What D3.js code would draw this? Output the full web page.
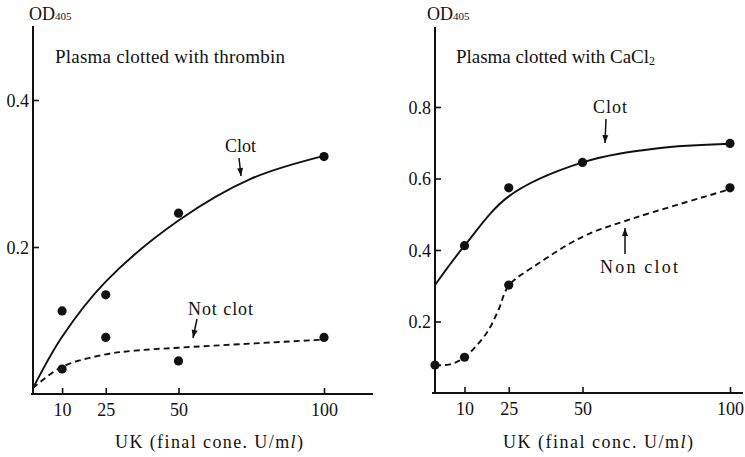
<!DOCTYPE html>
<html><head><meta charset="utf-8">
<script src="https://cdn.jsdelivr.net/npm/d3@7"></script>
<style>
html,body{margin:0;padding:0;background:#fff;}
svg{display:block;}
</style></head><body>
<svg id="chart" width="745" height="457"></svg>
<script>
// ---- data ----
const xTicks = [10, 25, 50, 100];
const leftYTicks = [0.2, 0.4];
const rightYTicks = [0.2, 0.4, 0.6, 0.8];

// Panel A: plasma clotted with thrombin
const thrombinClotPts = [[10, 0.113], [25, 0.135], [50, 0.246], [100, 0.323]];
const thrombinNotClotPts = [[10, 0.034], [25, 0.077], [50, 0.045], [100, 0.077]];
const thrombinClotCurve = [[0, 0.008], [10, 0.078], [25, 0.153], [50, 0.236], [75, 0.293], [100, 0.324]];
const thrombinNotClotCurve = [[0, 0.008], [10, 0.037], [25, 0.054], [35, 0.059], [50, 0.063], [100, 0.074]];

// Panel B: plasma clotted with CaCl2
const cacl2ClotPts = [[10, 0.412], [25, 0.574], [50, 0.645], [100, 0.698]];
const cacl2NonClotPts = [[0, 0.078], [10, 0.1], [25, 0.302], [100, 0.574]];
const cacl2ClotCurve = [[0, 0.302], [10, 0.412], [25, 0.55], [50, 0.645], [75, 0.684], [100, 0.697]];
const cacl2NonClotCurve = [[0, 0.078], [5, 0.08], [10, 0.1], [17.5, 0.168], [21.5, 0.232], [25, 0.3], [35, 0.362], [50, 0.437], [64, 0.48], [100, 0.57]];

const FONT = "'Liberation Serif', 'Times New Roman', serif";
const svg = d3.select("#chart");

function txt(sel, size) {
  return sel.attr("font-family", FONT).style("font-family", FONT)
    .style("font-size", size + "px").attr("fill", "#111");
}

function panel(cfg) {
  const g = svg.append("g");
  const x = d3.scaleLinear().domain([0, 100]).range(cfg.xRange);
  const y = d3.scaleLinear().domain(cfg.yDomain).range(cfg.yRange);

  // y axis
  const yAx = g.append("g").attr("transform", `translate(${x(0)},0)`)
    .call(d3.axisRight(y).tickValues(cfg.yTicks).tickSize(6).tickFormat(d3.format(".1f")));
  yAx.attr("font-family", FONT);
  yAx.select(".domain").remove();
  yAx.selectAll("line").attr("stroke", "#111").attr("stroke-width", 1.6);
  txt(yAx.selectAll("text"), 18).attr("x", -4).attr("text-anchor", "end").attr("dy", "0.35em");
  g.append("line").attr("x1", x(0)).attr("x2", x(0)).attr("y1", cfg.yTop).attr("y2", y(0))
    .attr("stroke", "#111").attr("stroke-width", 2);

  // x axis
  const xAx = g.append("g").attr("transform", `translate(0,${y(0)})`)
    .call(d3.axisTop(x).tickValues(xTicks).tickSize(6));
  xAx.attr("font-family", FONT);
  xAx.select(".domain").remove();
  xAx.selectAll("line").attr("stroke", "#111").attr("stroke-width", 1.6);
  txt(xAx.selectAll("text"), 18).attr("y", 9).attr("dy", "0.71em");
  g.append("line").attr("x1", cfg.xLineStart).attr("x2", cfg.xLineEnd).attr("y1", y(0)).attr("y2", y(0))
    .attr("stroke", "#111").attr("stroke-width", 2);

  const line = d3.line().x(d => x(d[0])).y(d => y(d[1])).curve(d3.curveCatmullRom.alpha(0.5));
  g.append("path").attr("d", line(cfg.solidCurve)).attr("fill", "none")
    .attr("stroke", "#111").attr("stroke-width", 1.9);
  g.append("path").attr("d", line(cfg.dashCurve)).attr("fill", "none")
    .attr("stroke", "#111").attr("stroke-width", 1.9).attr("stroke-dasharray", "6,4");

  g.selectAll("circle.a").data(cfg.solidPts.concat(cfg.dashPts)).join("circle")
    .attr("cx", d => x(d[0])).attr("cy", d => y(d[1])).attr("r", 4.6).attr("fill", "#111");

  // OD405 label
  const od = txt(g.append("text"), 18).attr("x", cfg.odX).attr("y", 20);
  od.append("tspan").text("OD");
  od.append("tspan").text("405").style("font-size", "11px");

  // title
  const t = txt(g.append("text"), 19).attr("x", cfg.titleX).attr("y", 63)
    .attr("textLength", cfg.titleLen).attr("lengthAdjust", "spacing");
  t.append("tspan").text(cfg.title);
  if (cfg.titleSub) t.append("tspan").text(cfg.titleSub).attr("dy", 2).style("font-size", "12px");

  // x-axis title
  const xt = txt(g.append("text"), 18).attr("x", cfg.xtX).attr("y", 448)
    .attr("textLength", cfg.xtLen).attr("lengthAdjust", "spacing");
  xt.append("tspan").text(cfg.xTitle);
  xt.append("tspan").text("l").style("font-style", "italic");
  xt.append("tspan").text(")");

  // annotations with arrows
  cfg.notes.forEach(n => {
    txt(g.append("text"), 18).attr("x", n.tx).attr("y", n.ty)
      .attr("textLength", n.len).attr("lengthAdjust", "spacing").text(n.text);
    g.append("line").attr("x1", n.a[0]).attr("y1", n.a[1]).attr("x2", n.a[2]).attr("y2", n.a[3])
      .attr("stroke", "#111").attr("stroke-width", 1.5);
    const ang = Math.atan2(n.a[3] - n.a[1], n.a[2] - n.a[0]);
    const hx = n.a[2], hy = n.a[3], L = 8, W = 3;
    const p = [[hx, hy],
      [hx - L * Math.cos(ang) + W * Math.sin(ang), hy - L * Math.sin(ang) - W * Math.cos(ang)],
      [hx - L * Math.cos(ang) - W * Math.sin(ang), hy - L * Math.sin(ang) + W * Math.cos(ang)]];
    g.append("path").attr("d", "M" + p.join("L") + "Z").attr("fill", "#111");
  });
}

panel({
  xRange: [33, 324], yDomain: [0, 0.4], yRange: [394, 100], yTicks: leftYTicks, yTop: 26,
  xLineStart: 31, xLineEnd: 373,
  solidCurve: thrombinClotCurve, dashCurve: thrombinNotClotCurve,
  solidPts: thrombinClotPts, dashPts: thrombinNotClotPts,
  odX: 29, titleX: 55, titleLen: 230, title: "Plasma clotted with thrombin",
  xtX: 115, xtLen: 188, xTitle: "UK (final cone.  U/m",
  notes: [
    {text: "Clot", tx: 225, ty: 152, len: 31, a: [239, 158, 241, 176]},
    {text: "Not clot", tx: 188, ty: 315, len: 65, a: [197, 319, 193, 338]}
  ]
});

panel({
  xRange: [435, 730], yDomain: [0, 0.8], yRange: [393, 107], yTicks: rightYTicks, yTop: 27,
  xLineStart: 432, xLineEnd: 743,
  solidCurve: cacl2ClotCurve, dashCurve: cacl2NonClotCurve,
  solidPts: cacl2ClotPts, dashPts: cacl2NonClotPts,
  odX: 427, titleX: 456, titleLen: 199, title: "Plasma clotted with CaCl", titleSub: "2",
  xtX: 503, xtLen: 190, xTitle: "UK (final conc.  U/m",
  notes: [
    {text: "Clot", tx: 593, ty: 113, len: 34, a: [606, 119, 605, 143]},
    {text: "Non clot", tx: 600, ty: 273, len: 78, a: [625, 254, 625, 228]}
  ]
});
</script>
</body></html>
